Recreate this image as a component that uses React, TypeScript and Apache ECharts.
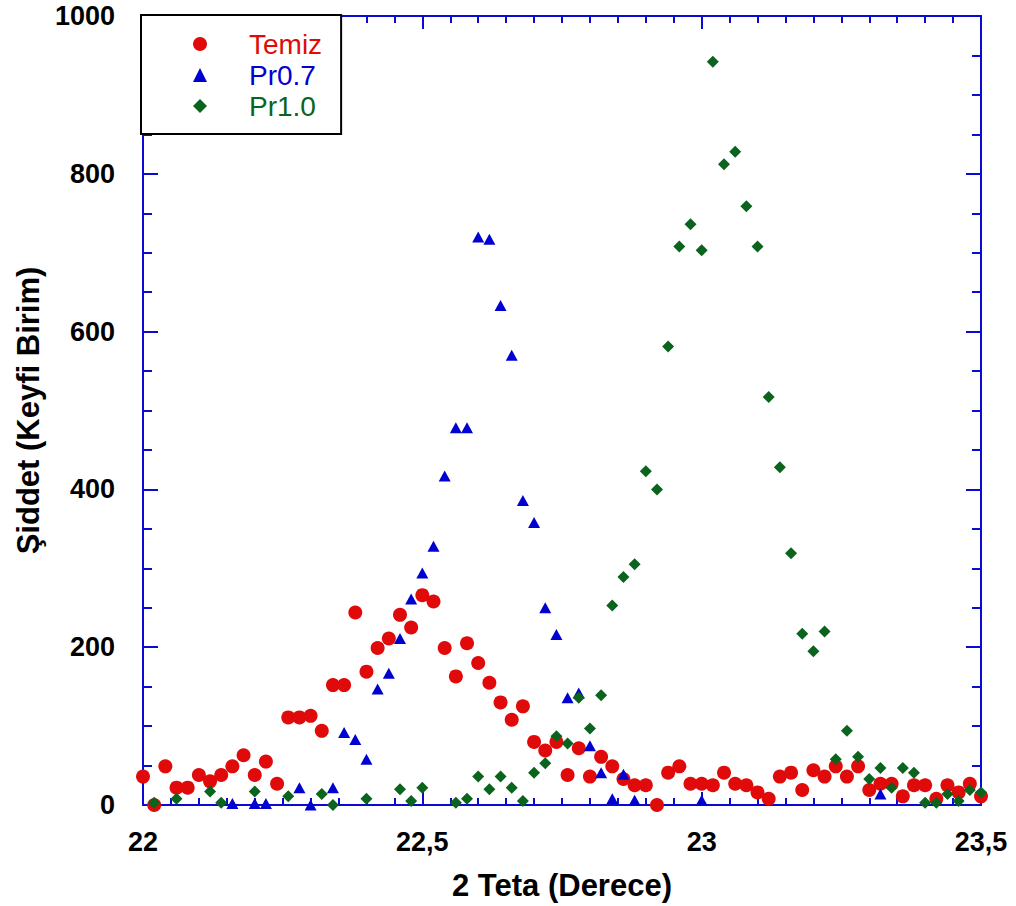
import React, { useEffect, useRef } from 'react';
import * as echarts from 'echarts';

const temizX = [22.00, 22.02, 22.04, 22.06, 22.08, 22.10, 22.12, 22.14, 22.16, 22.18, 22.20, 22.22, 22.24, 22.26, 22.28, 22.30, 22.32, 22.34, 22.36, 22.38, 22.40, 22.42, 22.44, 22.46, 22.48, 22.50, 22.52, 22.54, 22.56, 22.58, 22.60, 22.62, 22.64, 22.66, 22.68, 22.70, 22.72, 22.74, 22.76, 22.78, 22.80, 22.82, 22.84, 22.86, 22.88, 22.90, 22.92, 22.94, 22.96, 22.98, 23.00, 23.02, 23.04, 23.06, 23.08, 23.10, 23.12, 23.14, 23.16, 23.18, 23.20, 23.22, 23.24, 23.26, 23.28, 23.30, 23.32, 23.34, 23.36, 23.38, 23.40, 23.42, 23.44, 23.46, 23.48, 23.50];
const temizY = [36, 0, 49, 22, 22, 38, 30, 38, 49, 63, 38, 55, 27, 111, 111, 113, 94, 152, 152, 244, 169, 199, 211, 241, 225, 266, 258, 199, 163, 205, 180, 155, 130, 108, 125, 80, 69, 80, 38, 72, 36, 61, 49, 33, 25, 25, 0, 41, 49, 27, 27, 25, 41, 27, 25, 16, 8, 36, 41, 19, 44, 36, 49, 36, 49, 19, 27, 27, 11, 25, 25, 8, 25, 16, 27, 11];

const pr07X = [22.16, 22.20, 22.22, 22.28, 22.30, 22.34, 22.36, 22.38, 22.40, 22.42, 22.44, 22.46, 22.48, 22.50, 22.52, 22.54, 22.56, 22.58, 22.60, 22.62, 22.64, 22.66, 22.68, 22.70, 22.72, 22.74, 22.76, 22.78, 22.80, 22.82, 22.84, 22.86, 22.88, 23.00, 23.32];
const pr07Y = [2, 2, 2, 22, 0, 22, 92, 83, 58, 147, 167, 211, 261, 294, 328, 417, 478, 478, 720, 717, 633, 570, 386, 358, 250, 216, 136, 142, 75, 41, 8, 39, 6, 6, 14];

const pr10X = [22.02, 22.06, 22.12, 22.14, 22.20, 22.26, 22.32, 22.34, 22.40, 22.46, 22.48, 22.50, 22.56, 22.58, 22.60, 22.62, 22.64, 22.66, 22.68, 22.70, 22.72, 22.74, 22.76, 22.78, 22.80, 22.82, 22.84, 22.86, 22.88, 22.90, 22.92, 22.94, 22.96, 22.98, 23.00, 23.02, 23.04, 23.06, 23.08, 23.10, 23.12, 23.14, 23.16, 23.18, 23.20, 23.22, 23.24, 23.26, 23.28, 23.30, 23.32, 23.34, 23.36, 23.38, 23.40, 23.42, 23.44, 23.46, 23.48, 23.50];
const pr10Y = [3, 8, 17, 3, 17, 11, 14, 0, 8, 20, 5, 22, 3, 8, 36, 20, 36, 22, 5, 41, 53, 87, 78, 136, 97, 139, 253, 289, 305, 423, 400, 581, 708, 736, 703, 942, 812, 828, 759, 708, 517, 428, 319, 217, 195, 220, 58, 94, 61, 33, 47, 22, 47, 41, 3, 3, 14, 5, 19, 16];

const seriesNames = ['Temiz', 'Pr0.7', 'Pr1.0'];
const xTickValues = [22, 22.5, 23, 23.5];
const xTickLabels = ['22', '22,5', '23', '23,5'];
const yTickValues = [0, 200, 400, 600, 800, 1000];
const yTickLabels = ['0', '200', '400', '600', '800', '1000'];
const xTitle = '2 Teta (Derece)';
const yTitle = 'Şiddet (Keyfi Birim)';

const RED = '#e00a0a';
const BLUE = '#0000d0';
const GREEN = '#0a641e';
const AXIS = '#0a0ad2';
const FONT = '"Liberation Sans", Arial, sans-serif';

function pairs(xs: number[], ys: number[]) {
  return xs.map((x, i) => [x, ys[i]]);
}

function lookup(values: number[], labels: string[]) {
  return (v: number) => {
    const i = values.findIndex((t) => Math.abs(t - v) < 1e-9);
    return i >= 0 ? labels[i] : '';
  };
}

export default function App() {
  const ref = useRef<HTMLDivElement>(null);
  useEffect(() => {
    if (!ref.current) return;
    const chart = echarts.init(ref.current, undefined, { renderer: 'svg' });
    const tickCommon = {
      axisLine: { show: true, onZero: false, lineStyle: { color: AXIS, width: 2 } },
      splitLine: { show: false },
      minorSplitLine: { show: false },
    };
    const xBase = {
      type: 'value',
      min: 22,
      max: 23.5,
      interval: 0.5,
      ...tickCommon,
      axisTick: { show: true, inside: true, length: 13, lineStyle: { color: AXIS, width: 2 } },
      minorTick: { show: true, splitNumber: 10, length: 7, lineStyle: { color: AXIS, width: 2 } },
    };
    const yBase = {
      type: 'value',
      min: 0,
      max: 1000,
      interval: 200,
      ...tickCommon,
      axisTick: { show: true, inside: true, length: 15, lineStyle: { color: AXIS, width: 2 } },
      minorTick: { show: true, splitNumber: 4, length: 9, lineStyle: { color: AXIS, width: 2 } },
    };
    const option = {
      animation: false,
      backgroundColor: '#ffffff',
      grid: { left: 143, top: 16, right: 35, bottom: 101, containLabel: false },
      xAxis: [
        {
          ...xBase,
          position: 'bottom',
          axisLabel: {
            show: true,
            color: '#000',
            fontSize: 27,
            fontWeight: 'bold',
            fontFamily: FONT,
            margin: 23,
            formatter: lookup(xTickValues, xTickLabels),
          },
          name: xTitle,
          nameLocation: 'middle',
          nameGap: 65,
          nameTextStyle: { color: '#000', fontSize: 31, fontWeight: 'bold', fontFamily: FONT },
        },
        { ...xBase, position: 'top', axisLabel: { show: false } },
      ],
      yAxis: [
        {
          ...yBase,
          position: 'left',
          axisLabel: {
            show: true,
            color: '#000',
            fontSize: 27,
            fontWeight: 'bold',
            fontFamily: FONT,
            margin: 28,
            formatter: lookup(yTickValues, yTickLabels),
          },
          name: yTitle,
          nameLocation: 'middle',
          nameGap: 95,
          nameTextStyle: { color: '#000', fontSize: 31, fontWeight: 'bold', fontFamily: FONT },
        },
        { ...yBase, position: 'right', axisLabel: { show: false } },
      ],
      legend: {
        show: true,
        orient: 'vertical',
        left: 141,
        top: 15,
        z: 10,
        backgroundColor: '#ffffff',
        borderColor: '#000000',
        borderWidth: 2,
        borderRadius: 0,
        padding: [15, 19, 14, 52],
        itemGap: 3,
        itemWidth: 14,
        itemHeight: 14,
        textStyle: { fontSize: 28, fontFamily: FONT, padding: [0, 0, 0, 37] },
        data: [
          { name: seriesNames[0], textStyle: { color: RED } },
          { name: seriesNames[1], textStyle: { color: BLUE } },
          { name: seriesNames[2], textStyle: { color: GREEN } },
        ],
      },
      series: [
        {
          name: seriesNames[0],
          type: 'scatter',
          xAxisIndex: 0,
          yAxisIndex: 0,
          symbol: 'circle',
          symbolSize: 14,
          itemStyle: { color: RED, opacity: 1 },
          data: pairs(temizX, temizY),
          clip: false,
        },
        {
          name: seriesNames[1],
          type: 'scatter',
          xAxisIndex: 0,
          yAxisIndex: 0,
          symbol: 'triangle',
          symbolSize: [12, 11],
          itemStyle: { color: BLUE, opacity: 1 },
          data: pairs(pr07X, pr07Y),
          clip: false,
        },
        {
          name: seriesNames[2],
          type: 'scatter',
          xAxisIndex: 0,
          yAxisIndex: 0,
          symbol: 'diamond',
          symbolSize: 12,
          itemStyle: { color: GREEN, opacity: 1 },
          data: pairs(pr10X, pr10Y),
          clip: false,
        },
      ],
    };
    chart.setOption(option as any);
    return () => chart.dispose();
  }, []);
  return (
    <div
      ref={ref}
      style={{ position: 'absolute', left: 0, top: 0, width: 1016, height: 906 }}
    />
  );
}
